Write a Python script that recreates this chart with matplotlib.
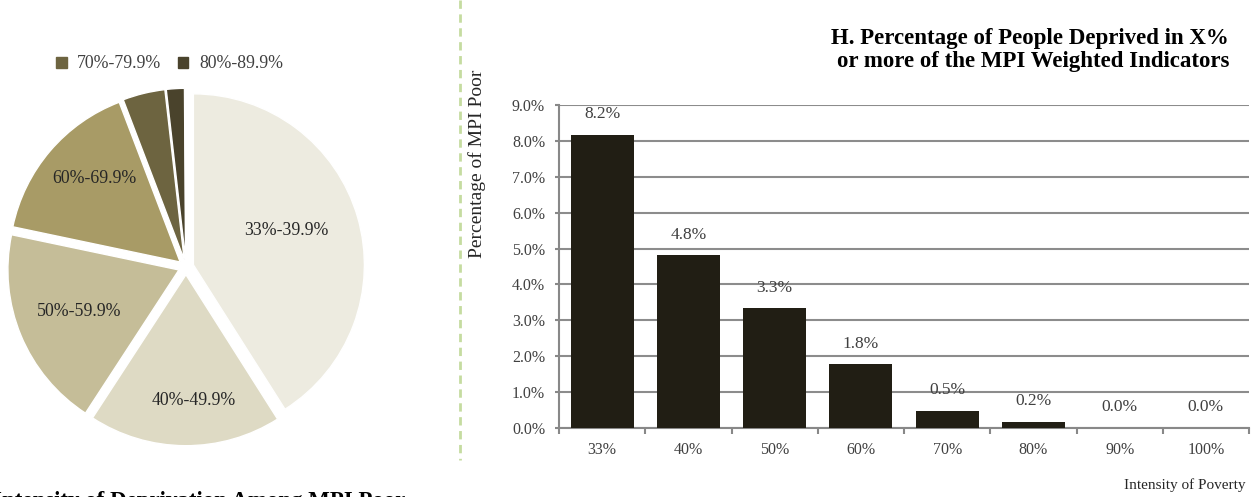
import matplotlib
matplotlib.use('Agg')
import matplotlib.pyplot as plt
from matplotlib.patches import Patch
from matplotlib.lines import Line2D
import numpy as np

plt.rcParams['font.family'] = ['Liberation Serif', 'DejaVu Serif']

# bar chart data (H. share of people deprived in X% or more)
cutoffs = ['33%', '40%', '50%', '60%', '70%', '80%', '90%', '100%']
pct_poor = [8.16, 4.81, 3.33, 1.77, 0.47, 0.16, 0.0, 0.0]

# pie data (intensity bands among the MPI poor)
bands = ['33%-39.9%', '40%-49.9%', '50%-59.9%', '60%-69.9%',
         '70%-79.9%', '80%-89.9%', '90%-100%']
band_share = [41.0, 18.2, 19.1, 15.9, 4.0, 1.7, 0.1]
band_colors = ['#edebe0', '#dedac4', '#c5bd98', '#a89b66',
               '#6d6440', '#4a432c', '#8a8a80']

W, H = 1252, 497
fig = plt.figure(figsize=(W / 100, H / 100), dpi=100)

"""
pie
"""
cx, cy, r = 186, 267, 171
side = 2 * r * 1.25
axp = fig.add_axes([(cx - side / 2) / W, (H - cy - side / 2) / H, side / W, side / H])
wedges, _ = axp.pie(band_share, colors=band_colors, startangle=90, counterclock=False,
                    explode=[0.045] * len(band_share),
                    wedgeprops=dict(edgecolor='white', linewidth=1.0))
axp.set_xlim(-1.25, 1.25)
axp.set_ylim(-1.25, 1.25)
axp.set_aspect('equal')
axp.axis('off')

label_dist = [0.58, 0.74, 0.63, 0.70]
label_turn = [4, 4, 0, -4]   # small angular nudges, degrees
for w, lab, d, t in zip(wedges[:4], bands[:4], label_dist, label_turn):
    mid = np.deg2rad((w.theta1 + w.theta2) / 2 + t)
    x0, y0 = w.center
    axp.text(x0 + d * np.cos(mid), y0 + d * np.sin(mid), lab,
             ha='center', va='center', fontsize=12.8, color='#262626')

fig.legend(handles=[Patch(color=band_colors[4], label=bands[4]),
                    Patch(color=band_colors[5], label=bands[5])],
           loc='center left', bbox_to_anchor=(40 / W, 1 - 64 / H), ncol=2,
           frameon=False, fontsize=12.8, handlelength=0.6, handleheight=0.6,
           handletextpad=0.6, columnspacing=0.9, labelcolor='#404040')

fig.text(-7 / W, 1 - 491 / H, 'Intensity of Deprivation Among MPI Poor',
         ha='left', va='top', fontsize=16.5, fontweight='bold', color='black')

# divider
fig.add_artist(Line2D([460 / W] * 2, [1, 1 - 460 / H], transform=fig.transFigure,
                      color='#c5dca0', lw=2, dashes=(3, 2)))

"""
bars
"""
ax = fig.add_axes([559 / W, (H - 428) / H, 690 / W, 323 / H])
x = np.arange(len(cutoffs))
ax.bar(x, pct_poor, width=0.73, color='#211e14', zorder=3)
for xi, v in zip(x, pct_poor):
    ax.annotate(f'{v:.1f}%', (xi, v), xytext=(0, 15), textcoords='offset points',
                ha='center', va='center', fontsize=12.5, color='#404040')

ax.set_xlim(-0.5, len(cutoffs) - 0.5)
ax.set_ylim(0, 9)
ax.set_yticks(np.arange(0, 10, 1))
ax.set_yticklabels([f'{t:.1f}%' for t in range(10)])
ax.set_xticks(x)
ax.set_xticklabels(cutoffs)
ax.set_xticks(np.arange(-0.5, len(cutoffs)), minor=True)
ax.tick_params(axis='x', which='major', length=0, pad=10, labelsize=11.5, labelcolor='#404040')
ax.tick_params(axis='x', which='minor', length=4, width=1.5, color='#888888')
ax.tick_params(axis='y', length=3, width=1.5, color='#888888', labelsize=11.5,
               labelcolor='#404040', pad=7)
ax.grid(axis='y', color='#8c8c8c', lw=1.5, zorder=0)
for s in ['top', 'right']:
    ax.spines[s].set_visible(False)
for s in ['left', 'bottom']:
    ax.spines[s].set_color('#888888')
    ax.spines[s].set_linewidth(1.5)

fig.text(1229 / W, 1 - 50 / H,
         'H. Percentage of People Deprived in X%\nor more of the MPI Weighted Indicators',
         ha='right', va='center', fontsize=16.5, fontweight='bold', linespacing=1.15)
fig.text(477 / W, 1 - 164 / H, 'Percentage of MPI Poor', rotation=90,
         ha='center', va='center', fontsize=14, color='#262626')
fig.text(1246 / W, 1 - 485 / H, 'Intensity of Poverty', ha='right', va='center',
         fontsize=11, color='#262626')

fig.savefig('out.png', dpi=100)
